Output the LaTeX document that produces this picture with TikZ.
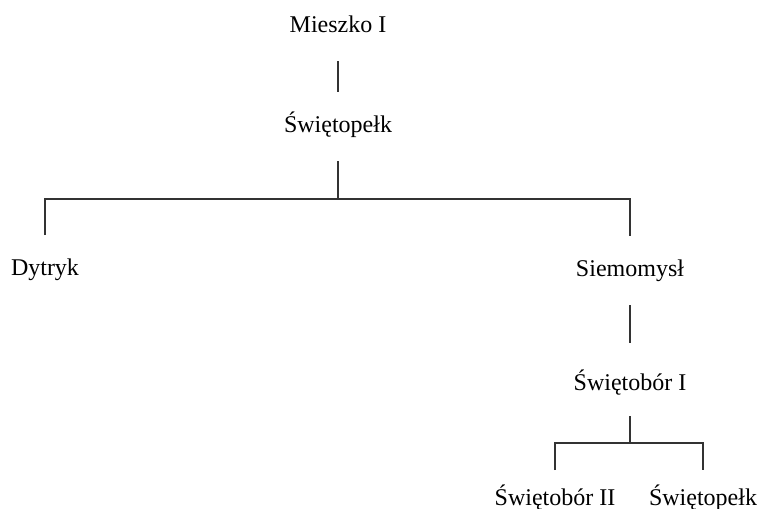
\documentclass[tikz,border=0pt]{standalone}
\usepackage{fontspec}
\setmainfont{Liberation Serif}

\begin{document}
\begin{tikzpicture}[x=1pt, y=-1pt,
	person/.style={anchor=base, inner sep=0pt, outer ysep=23pt, text height=17pt, text depth=6pt, font=\fontsize{24}{28}\selectfont},
	link/.style={line width=1.6pt, draw=black!80}]
	\useasboundingbox (0,0) rectangle (761,509);
	\node[person] (M)at(338, 32) {Mieszko I};
	\node[person] (S)at(338, 132) {Świętopełk};
	\node[person] (D)at(45, 275) {Dytryk};
	\node[person] (Sm)at(630, 276) {Siemomysł};
	\node[person, outer ysep=20pt] (SbI)at(630, 390) {Świętobór I};
	\node[person, outer ysep=18pt] (SbII)at(555, 505) {Świętobór II};
	\node[person, outer ysep=18pt] (Sp)at(703, 505) {Świętopełk};
	\coordinate (J1)at(338, 199);
	\coordinate (J2)at(630, 443);
	\draw[link] (M) -- (S);
	\draw[link] (S) -- (S |- J1);
	\draw[link] (D.north) |- (J1) -| (Sm.north);
	\draw[link, shorten >=10pt] (Sm) -- (SbI);
	\draw[link] (SbI) -- (SbI |- J2);
	\draw[link] (SbII.north) |- (J2) -| (Sp.north);
\end{tikzpicture}
\end{document}
